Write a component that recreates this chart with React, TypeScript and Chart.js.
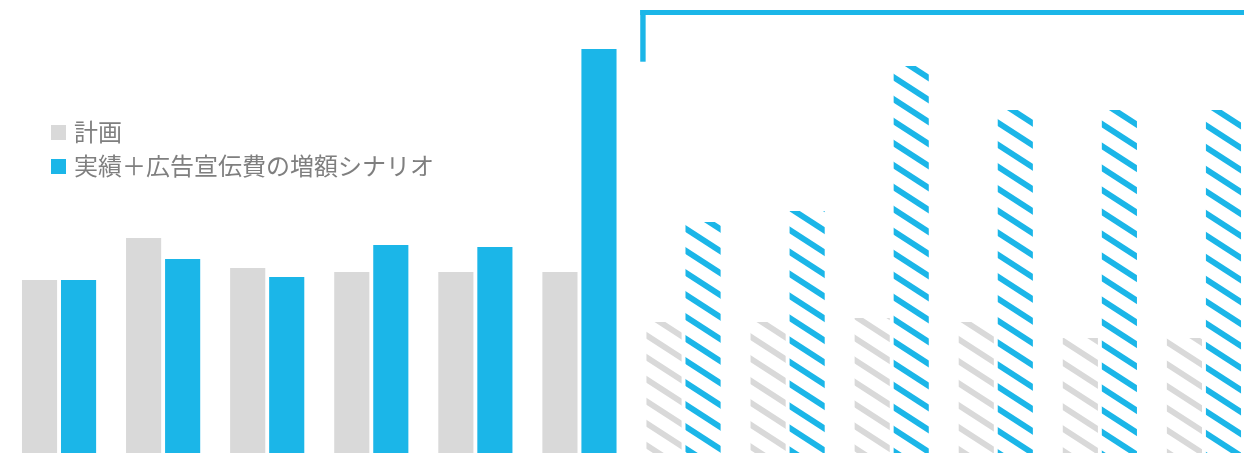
import React, { useEffect, useRef } from "react";
import { Chart, registerables } from "chart.js";

Chart.register(...registerables);

const categories = ["1", "2", "3", "4", "5", "6", "7", "8", "9", "10", "11", "12"];
const seriesNames = ["計画", "実績＋広告宣伝費の増額シナリオ"];
const planValues = [173, 215, 185, 181, 181, 181, 131, 131, 135, 131, 115, 115];
const actualValues = [173, 194, 176, 208, 206, 404, 231, 242, 387, 343, 343, 343];
const forecastStartIndex = 6;

const GRAY = "#d9d9d9";
const BLUE = "#1bb6e8";

function makeStripePattern(color: string): CanvasPattern | string {
  const w = 34;
  const h = 22;
  const s = h / w;
  const thick = 7;
  const off = 1.5;
  const c = document.createElement("canvas");
  c.width = w;
  c.height = h;
  const ctx = c.getContext("2d");
  if (!ctx) return color;
  ctx.fillStyle = color;
  for (let k = -3; k <= 3; k++) {
    const y0 = k * h + off;
    ctx.beginPath();
    ctx.moveTo(-2, y0 + s * -2);
    ctx.lineTo(w + 2, y0 + s * (w + 2));
    ctx.lineTo(w + 2, y0 + s * (w + 2) + thick);
    ctx.lineTo(-2, y0 + s * -2 + thick);
    ctx.closePath();
    ctx.fill();
  }
  const p = ctx.createPattern(c, "repeat");
  return p || color;
}

const bracketPlugin = {
  id: "bracket",
  afterDatasetsDraw(chart: any) {
    const { ctx } = chart;
    const xs = chart.scales.x;
    const left = xs.getPixelForValue(forecastStartIndex) - 43.3;
    ctx.save();
    ctx.fillStyle = BLUE;
    ctx.fillRect(left, 10, 5.4, 51.7);
    ctx.fillRect(left, 10, chart.width - left, 5);
    ctx.restore();
  },
};

export default function App() {
  const ref = useRef<HTMLCanvasElement | null>(null);

  useEffect(() => {
    if (!ref.current) return;
    const grayPat = makeStripePattern(GRAY);
    const bluePat = makeStripePattern(BLUE);
    const grayColors = categories.map((_, i) => (i >= forecastStartIndex ? grayPat : GRAY));
    const blueColors = categories.map((_, i) => (i >= forecastStartIndex ? bluePat : BLUE));
    const chart = new Chart(ref.current, {
      type: "bar",
      data: {
        labels: categories,
        datasets: [
          {
            label: seriesNames[0],
            data: planValues,
            backgroundColor: grayColors as any,
            borderWidth: 0,
            categoryPercentage: 0.75,
            barPercentage: 0.9,
          },
          {
            label: seriesNames[1],
            data: actualValues,
            backgroundColor: blueColors as any,
            borderWidth: 0,
            categoryPercentage: 0.75,
            barPercentage: 0.9,
          },
        ],
      },
      options: {
        animation: false,
        responsive: false,
        maintainAspectRatio: false,
        devicePixelRatio: 1,
        layout: { padding: { left: 7, right: 0, top: 0, bottom: 0 } },
        plugins: {
          legend: { display: false },
          tooltip: { enabled: false },
        },
        scales: {
          x: { type: "category", display: false, offset: true, grid: { display: false } },
          y: { display: false, min: 0, max: 453 },
        },
      },
      plugins: [bracketPlugin],
    });
    return () => chart.destroy();
  }, []);

  const legendColors = [GRAY, BLUE];

  return (
    <div style={{ position: "fixed", left: 0, top: 0, width: 1256, height: 453, background: "#fff" }}>
      <canvas ref={ref} width={1256} height={453} style={{ width: 1256, height: 453, display: "block" }} />
      <div style={{ position: "absolute", left: 51, top: 114 }}>
        {seriesNames.map((name, i) => (
          <div key={name} style={{ position: "relative", height: 34, width: 420 }}>
            <span
              style={{
                position: "absolute",
                left: 0,
                top: 11,
                width: 15,
                height: 15,
                background: legendColors[i],
              }}
            />
            <span
              style={{
                position: "absolute",
                left: 23,
                top: 0,
                lineHeight: "34px",
                fontSize: 24,
                fontFamily: '"Noto Sans CJK JP", "Noto Sans", sans-serif',
                color: "#7f7f7f",
                whiteSpace: "nowrap",
              }}
            >
              {name}
            </span>
          </div>
        ))}
      </div>
    </div>
  );
}
